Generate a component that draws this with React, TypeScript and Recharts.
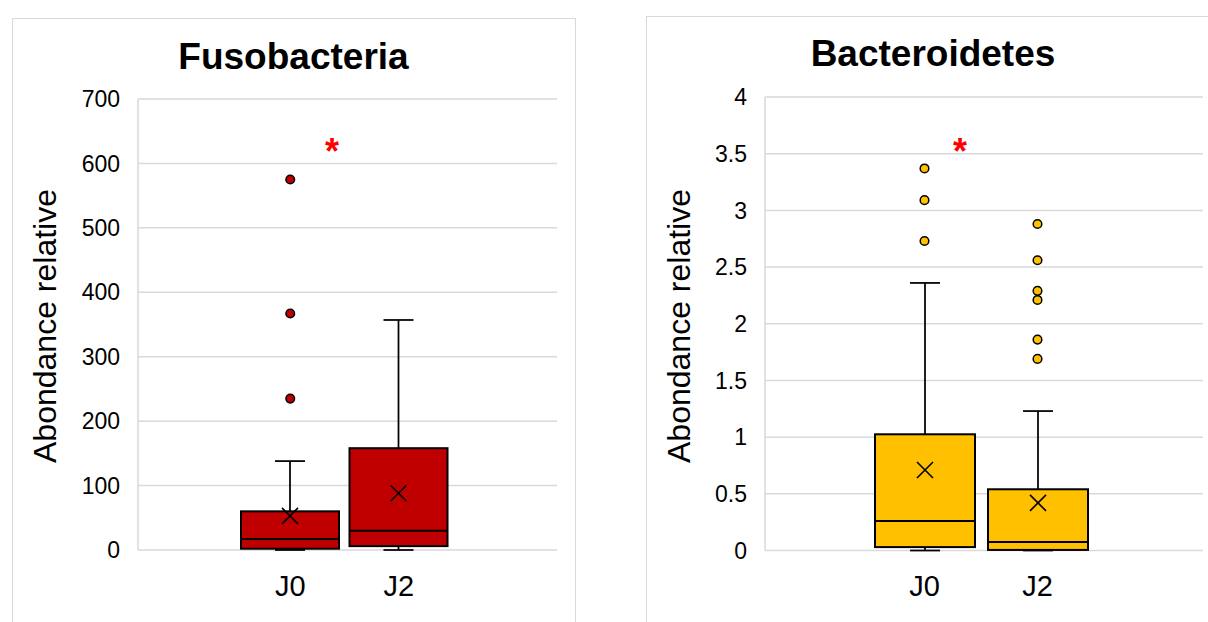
import React from 'react';
import { ComposedChart, Bar, Scatter, XAxis, YAxis, CartesianGrid } from 'recharts';

const FONT = '"Liberation Sans", Arial, Helvetica, sans-serif';

const categories = ['J0', 'J2'];

// Fusobacteria
const fusoMin = [0, 0];
const fusoQ1 = [2, 6];
const fusoMedian = [17, 30];
const fusoQ3 = [60, 158];
const fusoMax = [138, 357];
const fusoMean = [53, 88];
const fusoOutliers = [[575, 367, 235], []];
const fusoTicks = [0, 100, 200, 300, 400, 500, 600, 700];

// Bacteroidetes
const bactMin = [0, 0];
const bactQ1 = [0.03, 0.005];
const bactMedian = [0.26, 0.075];
const bactQ3 = [1.025, 0.54];
const bactMax = [2.36, 1.23];
const bactMean = [0.71, 0.42];
const bactOutliers = [[3.37, 3.09, 2.73], [2.88, 2.56, 2.29, 2.21, 1.86, 1.69]];
const bactTicks = [0, 0.5, 1, 1.5, 2, 2.5, 3, 3.5, 4];

const outlierKeys = ['o0', 'o1', 'o2', 'o3', 'o4', 'o5'];

const buildRows = (
  min: number[], q1: number[], median: number[], q3: number[],
  max: number[], mean: number[], outliers: number[][]
) =>
  categories.map((name, i) => {
    const row: any = { name, range: [min[i], max[i]], q1: q1[i], median: median[i], q3: q3[i], mean: mean[i] };
    outliers[i].forEach((v, j) => { row['o' + j] = v; });
    return row;
  });

const fusoRows = buildRows(fusoMin, fusoQ1, fusoMedian, fusoQ3, fusoMax, fusoMean, fusoOutliers);
const bactRows = buildRows(bactMin, bactQ1, bactMedian, bactQ3, bactMax, bactMean, bactOutliers);

// whisker + box + median + mean cross, placed inside the range bar [min, max]
const BoxShape = (props: any) => {
  const { x, y, width, height, payload, fill } = props;
  const [lo, hi] = payload.range;
  const py = (v: number) => y + ((hi - v) / (hi - lo)) * height;
  const cx = x + width / 2;
  const cap = 15;
  const m = 8;
  const yq1 = py(payload.q1);
  const yq3 = py(payload.q3);
  const ymed = py(payload.median);
  const ymean = py(payload.mean);
  return (
    <g>
      <line x1={cx} x2={cx} y1={y} y2={y + height} stroke="#000" strokeWidth={1.75} />
      <line x1={cx - cap} x2={cx + cap} y1={y} y2={y} stroke="#000" strokeWidth={1.75} />
      <line x1={cx - cap} x2={cx + cap} y1={y + height} y2={y + height} stroke="#000" strokeWidth={1.75} />
      <rect x={x} y={yq3} width={width} height={yq1 - yq3} fill={fill} stroke="#000" strokeWidth={2} />
      <line x1={x} x2={x + width} y1={ymed} y2={ymed} stroke="#000" strokeWidth={2} />
      <path
        d={`M${cx - m},${ymean - m}L${cx + m},${ymean + m}M${cx - m},${ymean + m}L${cx + m},${ymean - m}`}
        stroke="#000"
        strokeWidth={1.6}
        fill="none"
      />
    </g>
  );
};

const OutlierDot = (props: any) => {
  const { cx, cy, fill } = props;
  if (cx == null || cy == null || Number.isNaN(cx) || Number.isNaN(cy)) return null;
  return <circle cx={cx} cy={cy} r={4.3} fill={fill} stroke="#000" strokeWidth={1.5} />;
};

type PanelProps = {
  rows: any[];
  ticks: number[];
  domain: [number, number];
  fill: string;
  width: number;
  height: number;
  margin: { top: number; right: number; bottom: number; left: number };
  yWidth: number;
  padding: { left: number; right: number };
  barSize: number;
};

const BoxPanel = ({ rows, ticks, domain, fill, width, height, margin, yWidth, padding, barSize }: PanelProps) => (
  <ComposedChart width={width} height={height} data={rows} margin={margin}>
    <CartesianGrid vertical={false} stroke="#D9D9D9" strokeWidth={1.5} />
    <XAxis
      dataKey="name"
      axisLine={false}
      tickLine={false}
      tickSize={0}
      tickMargin={25}
      padding={padding}
      height={60}
      interval={0}
      tick={{ fill: '#000', fontSize: 29, fontFamily: FONT }}
    />
    <YAxis
      type="number"
      domain={domain}
      ticks={ticks}
      width={yWidth}
      interval={0}
      axisLine={{ stroke: '#D9D9D9', strokeWidth: 1.5 }}
      tickLine={false}
      tickSize={0}
      tickMargin={18}
      tick={{ fill: '#000', fontSize: 23, fontFamily: FONT }}
    />
    <Bar
      dataKey="range"
      barSize={barSize}
      fill={fill}
      isAnimationActive={false}
      shape={(p: any) => <BoxShape {...p} fill={fill} />}
    />
    {outlierKeys.map((k) => (
      <Scatter
        key={k}
        dataKey={k}
        fill={fill}
        isAnimationActive={false}
        shape={(p: any) => <OutlierDot {...p} fill={fill} />}
      />
    ))}
  </ComposedChart>
);

export default function App() {
  return (
    <div
      style={{
        position: 'absolute',
        left: 0,
        top: 0,
        width: 1208,
        height: 622,
        overflow: 'hidden',
        background: '#fff',
        fontFamily: FONT,
      }}
    >
      <div style={{ position: 'absolute', left: 12, top: 18, width: 562, height: 640, border: '1.5px solid #D9D9D9' }} />
      <div style={{ position: 'absolute', left: 646, top: 16, width: 620, height: 640, border: '1.5px solid #D9D9D9' }} />

      <div style={{ position: 'absolute', left: 0, top: 0 }}>
        <BoxPanel
          rows={fusoRows}
          ticks={fusoTicks}
          domain={[0, 700]}
          fill="#C00000"
          width={600}
          height={622}
          margin={{ top: 99, right: 43, bottom: 12, left: 0 }}
          yWidth={138}
          padding={{ left: 98, right: 104 }}
          barSize={98}
        />
      </div>
      <div style={{ position: 'absolute', left: 620, top: 0 }}>
        <BoxPanel
          rows={bactRows}
          ticks={bactTicks}
          domain={[0, 4]}
          fill="#FFC000"
          width={588}
          height={622}
          margin={{ top: 97, right: 5, bottom: 11.5, left: 0 }}
          yWidth={145}
          padding={{ left: 103, right: 109 }}
          barSize={100}
        />
      </div>

      <svg width={1208} height={622} style={{ position: 'absolute', left: 0, top: 0, pointerEvents: 'none' }}>
        <text x={293.5} y={68.8} textAnchor="middle" fontSize={37} fontWeight="bold" fontFamily={FONT} fill="#000">
          Fusobacteria
        </text>
        <text x={933} y={66} textAnchor="middle" fontSize={37} fontWeight="bold" fontFamily={FONT} fill="#000">
          Bacteroidetes
        </text>
        <text transform="translate(45,326) rotate(-90)" y={11.4} textAnchor="middle" fontSize={32} fontFamily={FONT} fill="#000">
          Abondance relative
        </text>
        <text transform="translate(679,326) rotate(-90)" y={11.4} textAnchor="middle" fontSize={32} fontFamily={FONT} fill="#000">
          Abondance relative
        </text>
        <text x={332} y={164} textAnchor="middle" fontSize={36} fontWeight="bold" fontFamily={FONT} fill="#FF0000">
          *
        </text>
        <text x={960} y={164} textAnchor="middle" fontSize={36} fontWeight="bold" fontFamily={FONT} fill="#FF0000">
          *
        </text>
      </svg>
    </div>
  );
}
